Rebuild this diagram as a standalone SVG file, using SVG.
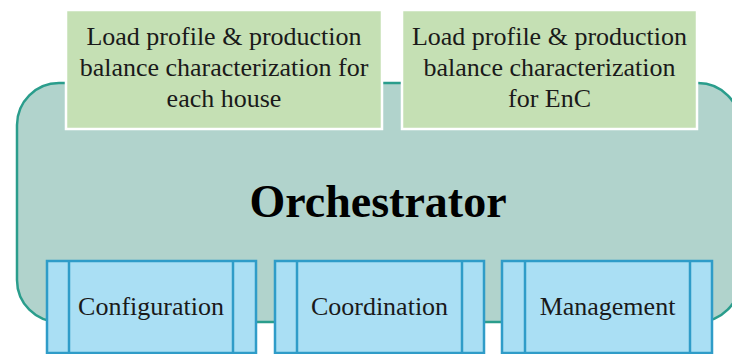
<svg xmlns="http://www.w3.org/2000/svg" width="732" height="354" viewBox="0 0 732 354">
<style>
.orch{fill:#b1d3cc;stroke:#2a9d8c;stroke-width:2.5}
.green{fill:#c5e0b4;stroke:#ffffff;stroke-width:2.5}
.blue{fill:#aadff4;stroke:#2f9cc8;stroke-width:2.5}
.t{font-family:"Liberation Serif","Times New Roman",serif;font-size:26px;fill:#1a1a1a;text-anchor:middle}
.big{font-family:"Liberation Serif","Times New Roman",serif;font-size:46px;font-weight:bold;fill:#000;text-anchor:middle}
</style>
<rect width="732" height="354" fill="#ffffff"/>
<g id="orchestrator">
<rect class="orch" x="17" y="83" width="723" height="239" rx="42" ry="42"/>
<text class="big" x="378" y="217">Orchestrator</text>
</g>
<g id="house">
<rect class="green" x="66" y="10" width="316" height="119"/>
<text class="t" x="224" y="45">Load profile &amp; production</text>
<text class="t" x="224" y="76">balance characterization for</text>
<text class="t" x="224" y="107">each house</text>
</g>
<g id="enc">
<rect class="green" x="402" y="10" width="295" height="119"/>
<text class="t" x="549.5" y="45">Load profile &amp; production</text>
<text class="t" x="549.5" y="76">balance characterization</text>
<text class="t" x="549.5" y="107">for EnC</text>
</g>
<g id="configuration">
<rect class="blue" x="47" y="261" width="209" height="92"/>
<line class="blue" x1="69" y1="261" x2="69" y2="353"/>
<line class="blue" x1="233" y1="261" x2="233" y2="353"/>
<text class="t" x="151" y="315">Configuration</text>
</g>
<g id="coordination">
<rect class="blue" x="275" y="261" width="209" height="92"/>
<line class="blue" x1="297" y1="261" x2="297" y2="353"/>
<line class="blue" x1="462" y1="261" x2="462" y2="353"/>
<text class="t" x="379.5" y="315">Coordination</text>
</g>
<g id="management">
<rect class="blue" x="502" y="261" width="210" height="92"/>
<line class="blue" x1="525" y1="261" x2="525" y2="353"/>
<line class="blue" x1="690" y1="261" x2="690" y2="353"/>
<text class="t" x="607.5" y="315">Management</text>
</g>
<g id="connectors"></g>
</svg>
